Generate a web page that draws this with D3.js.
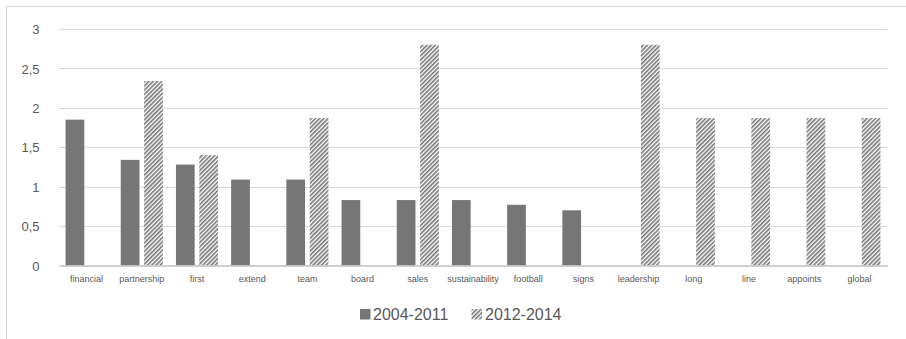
<!DOCTYPE html>
<html>
<head>
<meta charset="utf-8">
<script src="https://cdn.jsdelivr.net/npm/d3@7"></script>
<style>
  html, body { margin: 0; padding: 0; background: #ffffff; }
  svg { display: block; }
</style>
</head>
<body>
<svg id="chart" width="906" height="339"></svg>
<script>
const categories = ["financial", "partnership", "first", "extend", "team", "board", "sales", "sustainability", "football", "signs", "leadership", "long", "line", "appoints", "global"];
const seriesNames = ["2004-2011", "2012-2014"];
const values2004 = [1.85, 1.34, 1.28, 1.09, 1.09, 0.83, 0.83, 0.83, 0.77, 0.70, 0, 0, 0, 0, 0];
const values2012 = [0, 2.34, 1.40, 0, 1.87, 0, 2.80, 0, 0, 0, 2.80, 1.87, 1.87, 1.87, 1.87];
const yTicks = [0, 0.5, 1, 1.5, 2, 2.5, 3];

const svg = d3.select("#chart");
const W = 906, H = 339;
const plot = { left: 59, right: 887, top: 29, bottom: 265.5 };
const textColor = "#595959";
const barColor = "#767676";
const gridColor = "#d9d9d9";

// pattern
const defs = svg.append("defs");
const pat = defs.append("pattern")
  .attr("id", "hatch")
  .attr("patternUnits", "userSpaceOnUse")
  .attr("width", 3).attr("height", 3)
  .attr("patternTransform", "rotate(45)");
pat.append("rect").attr("width", 3).attr("height", 3).attr("fill", "#ffffff");
pat.append("rect").attr("width", 1.6).attr("height", 3).attr("fill", barColor);

// chart frame
svg.append("rect")
  .attr("x", 6.5).attr("y", 6.5)
  .attr("width", 2000).attr("height", 2000)
  .attr("fill", "none").attr("stroke", gridColor).attr("stroke-width", 1);

const x0 = d3.scaleBand().domain(categories).range([plot.left, plot.right]).padding(0);
const x1 = d3.scaleBand().domain(seriesNames).range([0, x0.bandwidth()])
  .paddingInner(0.2).paddingOuter(0.28);
const y = d3.scaleLinear().domain([0, 3]).range([plot.bottom, plot.top]);

// gridlines
svg.append("g").selectAll("line")
  .data(yTicks.filter(t => t !== 0))
  .join("line")
  .attr("x1", plot.left).attr("x2", plot.right)
  .attr("y1", d => Math.round(y(d)) + 0.5).attr("y2", d => Math.round(y(d)) + 0.5)
  .attr("stroke", gridColor).attr("stroke-width", 1);

// y axis labels
const yAxis = d3.axisLeft(y).tickValues(yTicks).tickSize(0).tickPadding(0)
  .tickFormat(d => d3.format("")(d).replace(".", ","));
const gy = svg.append("g").attr("transform", `translate(${39.5},0)`).call(yAxis);
gy.select(".domain").remove();
gy.selectAll("text")
  .attr("fill", textColor)
  .attr("font-family", "'Liberation Sans', Arial, sans-serif")
  .attr("font-size", 13)
  .attr("dy", "0.36em");

// bars
const data = categories.map((c, i) => ({ cat: c, vals: [values2004[i], values2012[i]] }));
const gBars = svg.append("g");
data.forEach(d => {
  seriesNames.forEach((s, j) => {
    const v = d.vals[j];
    if (!v) return;
    gBars.append("rect")
      .attr("x", x0(d.cat) + x1(s))
      .attr("y", y(v))
      .attr("width", x1.bandwidth())
      .attr("height", y(0) - y(v))
      .attr("fill", j === 0 ? barColor : "url(#hatch)");
  });
});

// x axis
const xAxis = d3.axisBottom(x0).tickSize(0).tickPadding(0);
const gx = svg.append("g").attr("transform", `translate(0,${plot.bottom})`).call(xAxis);
gx.select(".domain").attr("stroke", "#bfbfbf").attr("stroke-width", 1.5);
gx.selectAll("text")
  .attr("fill", textColor)
  .attr("font-family", "'Liberation Sans', Arial, sans-serif")
  .attr("font-size", 9)
  .attr("y", 13)
  .attr("dy", "0.36em");

// legend
const legend = svg.append("g");
const legendItems = [
  { name: seriesNames[0], fill: barColor, sx: 360, tx: 373 },
  { name: seriesNames[1], fill: "url(#hatch)", sx: 471.5, tx: 485 }
];
legendItems.forEach(it => {
  legend.append("rect").attr("x", it.sx).attr("y", 309).attr("width", 10.5).attr("height", 10.5).attr("fill", it.fill);
  legend.append("text").attr("x", it.tx).attr("y", 314.5).attr("dy", "0.36em")
    .attr("fill", textColor)
    .attr("font-family", "'Liberation Sans', Arial, sans-serif")
    .attr("font-size", 16)
    .text(it.name);
});
</script>
</body>
</html>
